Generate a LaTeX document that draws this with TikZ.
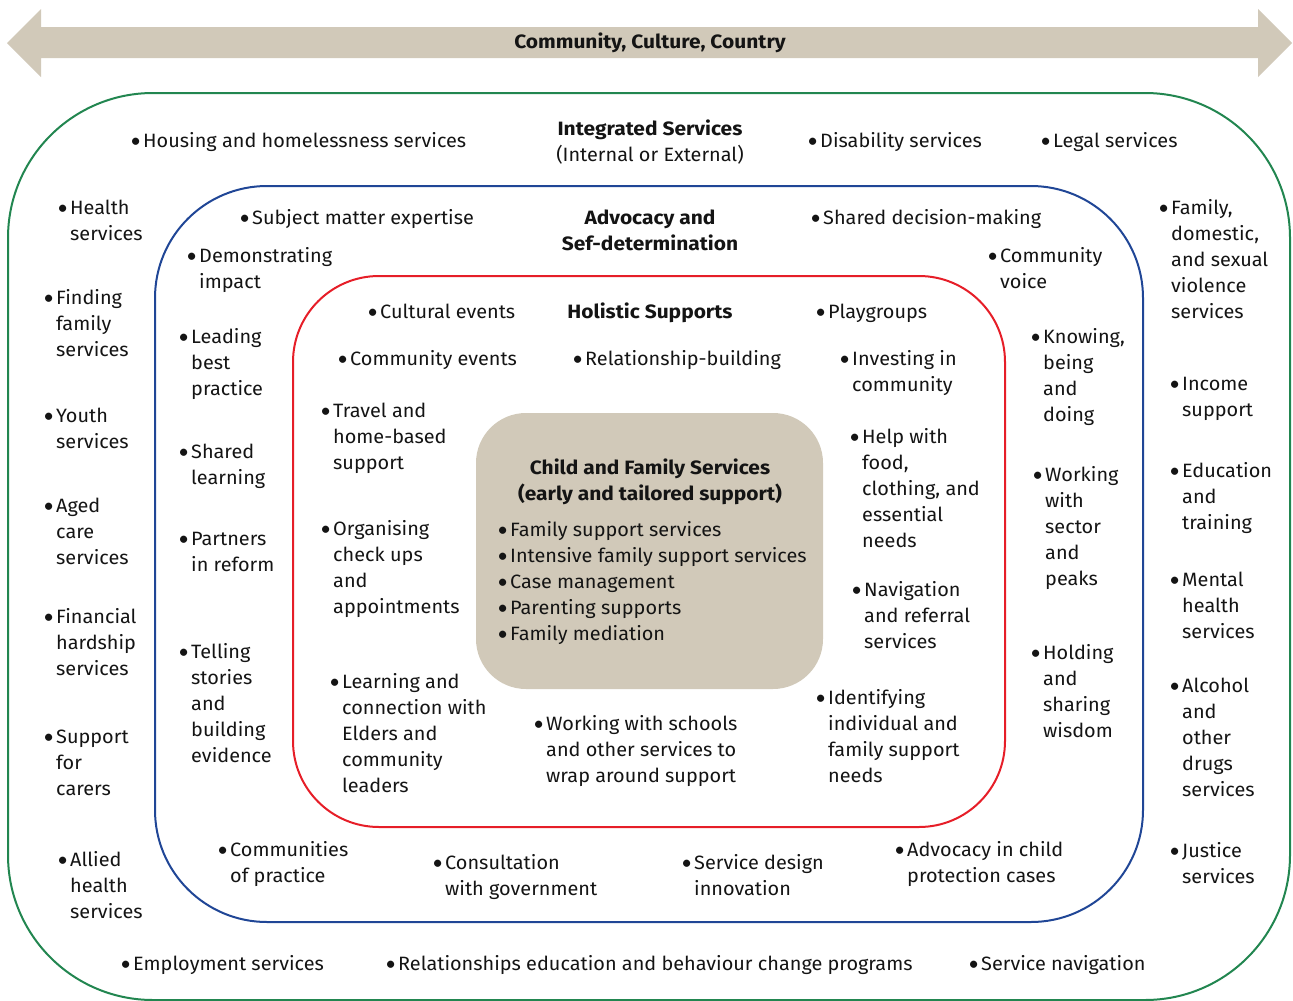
\documentclass[tikz,border=0pt]{standalone}
\usepackage{fontspec}
\setmainfont{Fira Sans}[UprightFeatures={FakeStretch=1.03},BoldFeatures={FakeStretch=1.085}]
\newfontfamily\dotfont{Lato}
\definecolor{ringgreen}{RGB}{34,134,80}
\definecolor{ringblue}{RGB}{32,70,150}
\definecolor{ringred}{RGB}{230,30,40}
\definecolor{sand}{RGB}{209,201,185}
\definecolor{ink}{RGB}{20,20,20}
\newcommand\fs{\fontsize{19.3}{26}\selectfont}
\newcommand\dotrow{\makebox[13pt][l]{\dotfont\textbullet}}
\newcommand\bul[1]{\dotrow\begin{tabular}[t]{@{}l@{}}#1\end{tabular}}
\newcommand\ctr[1]{\begin{tabular}[t]{@{}c@{}}#1\end{tabular}}
\begin{document}
\begin{tikzpicture}[x=1pt,y=-1pt,
  item/.style={anchor=base west,inner sep=0pt,font=\fs,text=ink},
  head/.style={anchor=base,inner sep=0pt,font=\fs,text=ink},
  ring/.style={line width=2pt,rounded corners=#1}]
\useasboundingbox (0,0) rectangle (1293,1001);

% double-headed band across the top
\fill[sand] (7,43) -- (41,9) -- (41,27) -- (1258,27) -- (1258,9) -- (1292,43)
  -- (1258,77) -- (1258,58) -- (41,58) -- (41,77) -- cycle;
\node[head] (band) at (650,48) {\bfseries Community, Culture, Country};

% nested rings
\draw[ring=145,draw=ringgreen] (8,93) rectangle (1290,1000);
\draw[ring=112,draw=ringblue] (155,186) rectangle (1143,922);
\draw[ring=86,draw=ringred] (293,276) rectangle (1005,827);
\fill[sand,rounded corners=50] (476,413) rectangle (823,689);

% outer ring: integrated services
\node[head] (intTitle) at (650,135) {\ctr{\textbf{Integrated Services}\\(Internal or External)}};
\node[item] (housing) at (130,147) {\bul{Housing and homelessness services}};
\node[item] (disability) at (807,147) {\bul{Disability services}};
\node[item] (legal) at (1040,147) {\bul{Legal services}};
\node[item] (health) at (57,214) {\bul{Health\\services}};
\node[item] (finding) at (43,304) {\bul{Finding\\family\\services}};
\node[item] (youth) at (43,422) {\bul{Youth\\services}};
\node[item] (aged) at (43,512) {\bul{Aged\\care\\services}};
\node[item] (hardship) at (43,623) {\bul{Financial\\hardship\\services}};
\node[item] (carers) at (43,743) {\bul{Support\\for\\carers}};
\node[item] (allied) at (57,866) {\bul{Allied\\health\\services}};
\node[item] (employ) at (120,970) {\bul{Employment services}};
\node[item] (relations) at (385,970) {\bul{Relationships education and behaviour change programs}};
\node[item] (servnav) at (968,970) {\bul{Service navigation}};
\node[item] (fdsv) at (1158,214) {\bul{Family,\\domestic,\\and sexual\\violence\\services}};
\node[item] (income) at (1169,390) {\bul{Income\\support}};
\node[item] (education) at (1169,477) {\bul{Education\\and\\training}};
\node[item] (mental) at (1169,586) {\bul{Mental\\health\\services}};
\node[item] (aod) at (1169,692) {\bul{Alcohol\\and\\other\\drugs\\services}};
\node[item] (justice) at (1169,857) {\bul{Justice\\services}};

% middle ring: advocacy and self-determination
\node[head] (advTitle) at (650,224) {\ctr{\textbf{Advocacy and}\\\textbf{Sef-determination}}};
\node[item] (expertise) at (239,224) {\bul{Subject matter expertise}};
\node[item] (shareddm) at (810,224) {\bul{Shared decision-making}};
\node[item] (impact) at (186,262) {\bul{Demonstrating\\impact}};
\node[item] (voice) at (987,262) {\bul{Community\\voice}};
\node[item] (leading) at (178,343) {\bul{Leading\\best\\practice}};
\node[item] (sharedl) at (178,458) {\bul{Shared\\learning}};
\node[item] (partners) at (178,545) {\bul{Partners\\in reform}};
\node[item] (telling) at (178,658) {\bul{Telling\\stories\\and\\building\\evidence}};
\node[item] (knowing) at (1030,343) {\bul{Knowing,\\being\\and\\doing}};
\node[item] (sector) at (1032,481) {\bul{Working\\with\\sector\\and\\peaks}};
\node[item] (wisdom) at (1030,659) {\bul{Holding\\and\\sharing\\wisdom}};
\node[item] (cop) at (217,856) {\bul{Communities\\of practice}};
\node[item] (consult) at (432,869) {\bul{Consultation\\with government}};
\node[item] (design) at (681,869) {\bul{Service design\\innovation}};
\node[item] (childprot) at (894,856) {\bul{Advocacy in child\\protection cases}};

% inner ring: holistic supports
\node[head] (holTitle) at (650,318) {\textbf{Holistic Supports}};
\node[item] (cultural) at (367,318) {\bul{Cultural events}};
\node[item] (playgroups) at (815,318) {\bul{Playgroups}};
\node[item] (commevents) at (337,365) {\bul{Community events}};
\node[item] (relbuild) at (572,365) {\bul{Relationship-building}};
\node[item] (investing) at (839,365) {\bul{Investing in\\community}};
\node[item] (travel) at (320,417) {\bul{Travel and\\home-based\\support}};
\node[item] (helpwith) at (849,443) {\bul{Help with\\food,\\clothing, and\\essential\\needs}};
\node[item] (checkups) at (320,535) {\bul{Organising\\check ups\\and\\appointments}};
\node[item] (navigation) at (851,596) {\bul{Navigation\\and referral\\services}};
\node[item] (elders) at (329,688) {\bul{Learning and\\connection with\\Elders and\\community\\leaders}};
\node[item] (schools) at (533,730) {\bul{Working with schools\\and other services to\\wrap around support}};
\node[item] (needs) at (815,704) {\bul{Identifying\\individual and\\family support\\needs}};

% core: child and family services
\node[head] (cfsTitle) at (650,474) {\ctr{\textbf{Child and Family Services}\\\textbf{(early and tailored support)}}};
\node[item] (cfsList) at (497,536) {\begin{tabular}[t]{@{}l@{}}
  \dotrow Family support services\\
  \dotrow Intensive family support services\\
  \dotrow Case management\\
  \dotrow Parenting supports\\
  \dotrow Family mediation
\end{tabular}};
\end{tikzpicture}
\end{document}
